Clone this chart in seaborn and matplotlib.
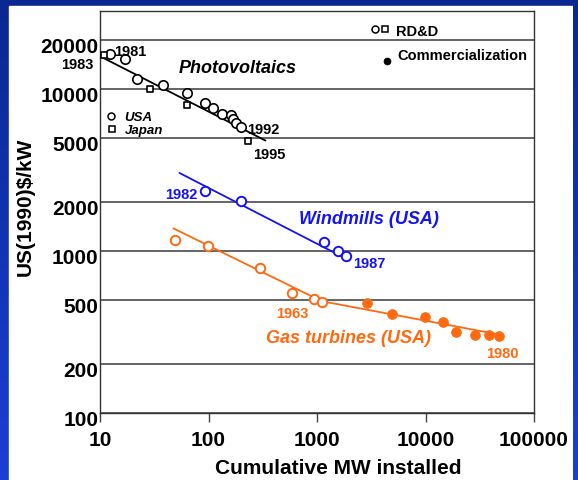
import numpy as np
import pandas as pd
import matplotlib
matplotlib.use("Agg")
import matplotlib.pyplot as plt
import matplotlib.ticker as mticker
from matplotlib.patches import Rectangle
from matplotlib.transforms import ScaledTranslation
from matplotlib.colors import LinearSegmentedColormap
import seaborn as sns

# ---------------- data ----------------
pv_usa_mw = [12.4, 17, 21.8, 38, 62.7, 93, 111, 132, 160, 169, 179.5, 199]
pv_usa_cost = [16400, 15200, 11500, 10600, 9500, 8200, 7600, 7000, 6900, 6500, 6200, 5800]
pv_japan_mw = [10.9, 29.1, 62.7, 231]
pv_japan_cost = [16200, 10000, 8000, 4750]
pv_fit_mw = [10.4, 335]
pv_fit_cost = [15700, 4800]

wind_mw = [93, 200, 1170, 1550, 1850]
wind_cost = [2330, 2030, 1130, 1000, 934]
wind_fit_mw = [54, 1990]
wind_fit_cost = [3030, 874]

gas_rdd_mw = [49.5, 98.4, 296, 584, 946, 1107]
gas_rdd_cost = [1170, 1080, 780, 547, 505, 481]
gas_com_mw = [2870, 4955, 9930, 14420, 19100, 28700, 38300, 48000]
gas_com_cost = [477, 406, 389, 364, 316, 305, 305, 300]
gas_fit_mw = [47.4, 1100, 45300]
gas_fit_cost = [1380, 490, 307]

y_ticks = [100, 200, 500, 1000, 2000, 5000, 10000, 20000]
x_ticks = [10, 100, 1000, 10000, 100000]
x_tick_labels = ["10", "100", "1000", "10000", "100000"]

# ---------------- style ----------------
sns.set_theme(style="white")
plt.rcParams['font.family'] = ['Liberation Sans', 'DejaVu Sans']

BLACK = "#000000"
BLUE = "#1414f0"
ORANGE = "#ff6a10"

W, H = 578, 481
fig = plt.figure(figsize=(W / 100, H / 100), dpi=100)

# background gradient + white panel
grad = np.linspace(0, 1, 256).reshape(-1, 1)
cmap = LinearSegmentedColormap.from_list("bg", ["#0a2890", "#1a40d4"])
bg = fig.add_axes([0, 0, 1, 1], zorder=-10)
bg.imshow(grad, cmap=cmap, aspect="auto", extent=[0, 1, 0, 1], origin="upper")
bg.add_patch(Rectangle((9 / W, 0), (573 - 9) / W, (H - 7) / H, color="white"))
bg.set_xlim(0, 1); bg.set_ylim(0, 1)
bg.axis("off")

ov = fig.add_axes([573 / W, 0, 5 / W, 1], zorder=10)
ov.imshow(grad, cmap=cmap, aspect="auto", extent=[0, 1, 0, 1], origin="upper")
ov.axis("off")

ax = fig.add_axes([100 / W, 1 - 414 / H, 434 / W, (414 - 11.7) / H])
ax.set_facecolor("white")
ax.set_xscale("log")
ax.set_yscale("log")

# fit lines
sns.lineplot(x=pv_fit_mw, y=pv_fit_cost, ax=ax, color=BLACK, lw=1.3, zorder=3)
sns.lineplot(x=wind_fit_mw, y=wind_fit_cost, ax=ax, color=BLUE, lw=1.3, zorder=3)
sns.lineplot(x=gas_fit_mw, y=gas_fit_cost, ax=ax, color=ORANGE, lw=1.3, zorder=3)

# markers
sns.scatterplot(x=pv_usa_mw, y=pv_usa_cost, ax=ax, marker="o", s=46,
                color="white", edgecolor=BLACK, linewidth=1.2, zorder=4)
sns.scatterplot(x=pv_japan_mw, y=pv_japan_cost, ax=ax, marker="s", s=17,
                color="white", edgecolor=BLACK, linewidth=1.2, zorder=4)
sns.scatterplot(x=wind_mw, y=wind_cost, ax=ax, marker="o", s=46,
                color="white", edgecolor=BLUE, linewidth=1.4, zorder=4)
sns.scatterplot(x=gas_rdd_mw, y=gas_rdd_cost, ax=ax, marker="o", s=46,
                color="white", edgecolor=ORANGE, linewidth=1.4, zorder=4)
sns.scatterplot(x=gas_com_mw, y=gas_com_cost, ax=ax, marker="o", s=50,
                color=ORANGE, edgecolor=ORANGE, linewidth=0.5, zorder=4)

# axes
ax.set_xlim(10, 100000)
ax.set_ylim(100, 30400)
ax.xaxis.set_major_locator(mticker.FixedLocator(x_ticks))
ax.xaxis.set_minor_locator(mticker.NullLocator())
ax.set_xticklabels(x_tick_labels)
ax.yaxis.set_major_locator(mticker.FixedLocator(y_ticks))
ax.yaxis.set_minor_locator(mticker.NullLocator())
ax.yaxis.set_major_formatter(mticker.FixedFormatter([str(v) for v in y_ticks]))
ax.set_axisbelow(True)
ax.yaxis.grid(True, color="#4a4a4a", lw=1.2)
ax.xaxis.grid(False)
for sp in ax.spines.values():
    sp.set_visible(True)
    sp.set_color("#333333")
    sp.set_linewidth(1.0)

ax.tick_params(axis="y", length=0, pad=1, labelsize=15, labelcolor="black")
ax.tick_params(axis="x", direction="out", length=6.5, width=1, color="#444444",
               pad=6, labelsize=15, labelcolor="black", bottom=True)
for lab in ax.get_yticklabels() + ax.get_xticklabels():
    lab.set_fontweight("bold")
for lab in ax.get_yticklabels():
    lab.set_transform(lab.get_transform() + ScaledTranslation(0, -0.045, fig.dpi_scale_trans))

ax.set_xlabel("Cumulative MW installed", fontsize=15, fontweight="bold", color="black")
ax.set_ylabel("US(1990)$/kW", fontsize=15, fontweight="bold", color="black")
ax.xaxis.set_label_coords(0.548, -0.112)
ax.yaxis.set_label_coords(-0.150, 0.515)


def fp(x, y):
    return x / W, 1 - y / H


def txt(x, y, s, color=BLACK, size=10.5, style="normal", weight="bold", ha="left"):
    fig.text(*fp(x, y), s, color=color, fontsize=size, fontstyle=style,
             fontweight=weight, ha=ha, va="baseline", zorder=6)


# year labels
txt(114, 56, "1981")
txt(94, 69, "1983", ha="right")
txt(247, 134, "1992")
txt(253.5, 159, "1995")
txt(197, 199, "1982", color=BLUE, ha="right")
txt(353, 268, "1987", color=BLUE)
txt(276, 318, "1963", color=ORANGE)
txt(486, 358, "1980", color=ORANGE)

# series labels
txt(179, 73, "Photovoltaics", size=13, style="italic")
txt(299, 224, "Windmills (USA)", color=BLUE, size=13, style="italic")
txt(266, 343, "Gas turbines (USA)", color=ORANGE, size=13, style="italic")

# legend-like keys
txt(124.5, 121, "USA", size=9.5, style="italic")
txt(124.5, 134, "Japan", size=9.5, style="italic")
txt(396, 36.5, "RD&D", size=10.5)
txt(397, 59.5, "Commercialization", size=10.5)

kx = ax.transAxes
def ka(x, y):
    return (x - 100) / 434, (414 - y) / (414 - 11.7)

ax.plot(*ka(111.3, 116.7), marker="o", ms=5, mfc="white", mec=BLACK, mew=1.1,
        transform=kx, clip_on=False, zorder=5)
ax.plot(*ka(111.7, 130), marker="s", ms=3.8, mfc="white", mec=BLACK, mew=1.1,
        transform=kx, clip_on=False, zorder=5)
ax.plot(*ka(375, 30), marker="o", ms=5, mfc="white", mec=BLACK, mew=1.1,
        transform=kx, clip_on=False, zorder=5)
ax.plot(*ka(384.5, 30), marker="s", ms=4, mfc="white", mec=BLACK, mew=1.1,
        transform=kx, clip_on=False, zorder=5)
ax.plot(*ka(386.5, 61.5), marker="o", ms=5, mfc=BLACK, mec=BLACK, mew=0.5,
        transform=kx, clip_on=False, zorder=5)

fig.savefig("out.png", dpi=100)
